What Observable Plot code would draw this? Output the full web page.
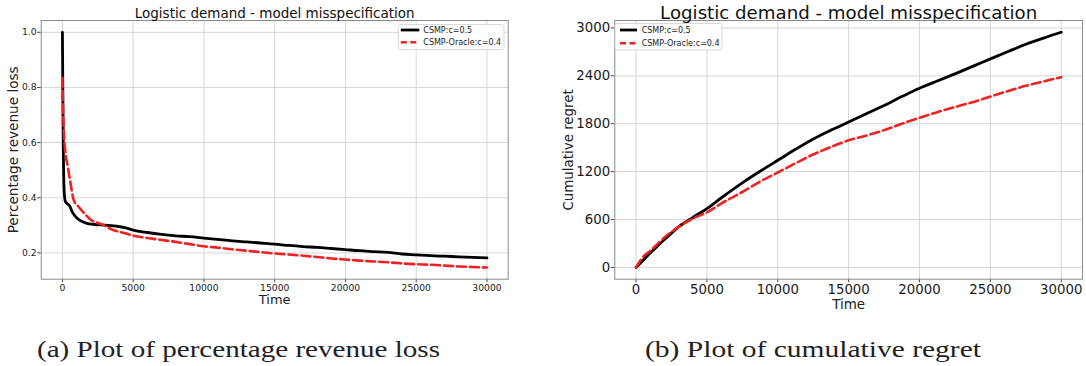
<!DOCTYPE html>
<html><head><meta charset="utf-8">
<script src="https://cdn.jsdelivr.net/npm/d3@7"></script>
<script src="https://cdn.jsdelivr.net/npm/@observablehq/plot@0.6"></script>
<style>
body{margin:0;background:#fff;}
#wrap{position:relative;width:1086px;height:366px;overflow:hidden;background:#fff;}
#wrap > svg{position:absolute;top:0;}
</style></head><body><div id="wrap"></div>
<script>
// ---------- data ----------
const seriesNames = ["CSMP:c=0.5", "CSMP-Oracle:c=0.4"];
const titleText = "Logistic demand - model misspecification";
const captions = ["(a) Plot of percentage revenue loss", "(b) Plot of cumulative regret"];

// Panel (a): percentage revenue loss
const timeLossCSMP = [0,20,40,60,90,130,190,300,490,730,1080,1670,2260,3000,3800,4400,5000,6000,7000,8000,9000,10000,11000,12000,13000,14000,15000,16000,17000,18000,19000,20000,21000,22000,23000,24000,25000,26000,27000,28000,29000,30000];
const lossCSMP = [1.0,0.85,0.70,0.58,0.48,0.42,0.39,0.38,0.372,0.345,0.324,0.308,0.303,0.301,0.297,0.292,0.283,0.274,0.267,0.262,0.259,0.254,0.249,0.244,0.240,0.236,0.232,0.227,0.223,0.220,0.216,0.212,0.208,0.205,0.202,0.196,0.193,0.190,0.188,0.186,0.184,0.182];
const timeLossOracle = [0,30,70,120,200,380,550,800,1100,1550,2000,2740,3500,4500,5000,6000,7000,8000,9000,10000,11000,12000,13000,14000,15000,16000,17000,18000,19000,20000,21000,22000,23000,24000,25000,26000,27000,28000,29000,30000];
const lossOracle = [0.834,0.75,0.68,0.62,0.57,0.513,0.46,0.391,0.37,0.343,0.32,0.305,0.285,0.27,0.263,0.254,0.247,0.24,0.232,0.224,0.219,0.213,0.208,0.203,0.198,0.194,0.190,0.185,0.180,0.176,0.172,0.169,0.166,0.162,0.159,0.157,0.154,0.151,0.149,0.147];

// Panel (b): cumulative regret
const timeRegretCSMP = [0,500,1000,1500,2000,2500,3000,4000,5000,6000,7500,8750,10000,11250,12500,13750,15000,16250,17500,18750,20000,21250,22500,23750,25000,26250,27500,28750,30000];
const regretCSMP = [0,90,180,265,350,430,508,625,737,870,1060,1205,1342,1480,1610,1720,1821,1925,2029,2140,2245,2335,2425,2518,2612,2705,2795,2873,2946];
const timeRegretOracle = [0,500,1000,2000,3000,4000,5000,6000,7500,8750,10000,11250,12500,13750,15000,16400,17500,18750,20000,21250,22500,23750,25000,26250,27500,28750,30000];
const regretOracle = [0,133,208,375,508,612,690,800,945,1075,1190,1305,1415,1510,1592,1660,1720,1800,1875,1945,2010,2070,2140,2210,2275,2330,2383];

const xTicks = [0,5000,10000,15000,20000,25000,30000];
const yTicksLoss = [0.2,0.4,0.6,0.8,1.0];
const yTicksRegret = [0,600,1200,1800,2400,3000];

// ---------- helpers ----------
const rows = (ts, vs, s) => ts.map((t, i) => ({t, v: vs[i], s}));
const BLACK = "#000000", RED = "#ee2222";
const GRID = "#d6d6d6";

function panel({width, mL, mR, yDomain, yTicks, yFmt, tickFont, titleFont, titleDy, yLabel, yLabelDx, yLabelFont, timeDy, timeFont, a, b}) {
  return Plot.plot({
    width, height: 310,
    marginLeft: mL, marginRight: mR, marginTop: 20, marginBottom: 31.3,
    style: {fontFamily: "DejaVu Sans", fontSize: tickFont + "px", background: "transparent", overflow: "visible", color: "#1a1a1a"},
    x: {domain: [-1500, 31500]},
    y: {domain: yDomain},
    marks: [
      Plot.gridX(xTicks, {stroke: GRID, strokeOpacity: 1, strokeWidth: 1}),
      Plot.gridY(yTicks, {stroke: GRID, strokeOpacity: 1, strokeWidth: 1}),
      Plot.axisX(xTicks, {tickFormat: d3.format("d"), tickSize: 3.5, tickPadding: 1.5, fontSize: tickFont, label: null, stroke: "#444"}),
      Plot.axisY(yTicks, {tickFormat: yFmt, tickSize: 3.5, tickPadding: 1.2, fontSize: tickFont, label: null, stroke: "#444"}),
      Plot.line(a, {x: "t", y: "v", stroke: BLACK, strokeWidth: 2.8, curve: "monotone-x"}),
      Plot.line(b, {x: "t", y: "v", stroke: RED, strokeWidth: 2.6, strokeDasharray: "9,4", curve: "monotone-x"}),
      Plot.frame({stroke: "#8a8a8a", strokeWidth: 1}),
      Plot.text([titleText], {text: d => d, frameAnchor: "top", lineAnchor: "bottom", dy: titleDy, fontSize: titleFont, fill: "#111"}),
      Plot.text([yLabel], {text: d => d, frameAnchor: "left", textAnchor: "middle", lineAnchor: "middle", rotate: -90, dx: yLabelDx, fontSize: yLabelFont, fill: "#222"}),
      Plot.text(["Time"], {text: d => d, frameAnchor: "bottom", textAnchor: "middle", lineAnchor: "bottom", dy: timeDy, fontSize: timeFont, fill: "#222"})
    ]
  });
}

const wrap = document.getElementById("wrap");

const A = panel({
  width: 540, mL: 40.7, mR: 32.3,
  yDomain: [0.1047, 1.0427], yTicks: yTicksLoss, yFmt: d3.format(".1f"),
  tickFont: 9.2, titleFont: 13.5, titleDy: -3,
  yLabel: "Percentage revenue loss", yLabelDx: -27.4, yLabelFont: 13.6,
  timeDy: 24.3, timeFont: 13,
  a: rows(timeLossCSMP, lossCSMP, seriesNames[0]),
  b: rows(timeLossOracle, lossOracle, seriesNames[1])
});
A.style.left = "0px";
wrap.appendChild(A);

const B = panel({
  width: 540, mL: 68.3, mR: 4,
  yDomain: [-147, 3093], yTicks: yTicksRegret, yFmt: d3.format("d"),
  tickFont: 13.3, titleFont: 18.2, titleDy: -1.5,
  yLabel: "Cumulative regret", yLabelDx: -45.6, yLabelFont: 13.4,
  timeDy: 29.3, timeFont: 13.5,
  a: rows(timeRegretCSMP, regretCSMP, seriesNames[0]),
  b: rows(timeRegretOracle, regretOracle, seriesNames[1])
});
B.style.left = "546px";
wrap.appendChild(B);

// ---------- legends and captions overlay ----------
const ov = d3.select(wrap).append("svg")
  .attr("width", 1086).attr("height", 366)
  .style("position", "absolute").style("left", "0px").style("top", "0px")
  .style("pointer-events", "none");

function legend(x0, y0, w, h, lineX0, lineX1, textX, rowYs) {
  const g = ov.append("g");
  g.append("rect").attr("x", x0).attr("y", y0).attr("width", w).attr("height", h)
    .attr("rx", 2).attr("fill", "#fff").attr("fill-opacity", 0.85)
    .attr("stroke", "#cfcfcf").attr("stroke-width", 0.8);
  const styles = [{stroke: BLACK, dash: null, sw: 2.8}, {stroke: RED, dash: "6,3.5", sw: 2.6}];
  seriesNames.forEach((name, i) => {
    const l = g.append("line").attr("x1", lineX0).attr("x2", lineX1)
      .attr("y1", rowYs[i]).attr("y2", rowYs[i])
      .attr("stroke", styles[i].stroke).attr("stroke-width", styles[i].sw);
    if (styles[i].dash) l.attr("stroke-dasharray", styles[i].dash);
    g.append("text").attr("x", textX).attr("y", rowYs[i]).attr("dy", "0.34em")
      .attr("font-family", "DejaVu Sans").attr("font-size", 8).attr("fill", "#222")
      .text(name);
  });
}
legend(398.3, 24.5, 105.7, 25, 400.8, 419.3, 423.3, [30, 42.3]);
legend(615, 23.5, 107, 26.5, 620, 637, 641.7, [30, 43.3]);

const capX = [37, 645], capW = [403, 336];
captions.forEach((c, i) => {
  ov.append("text").attr("x", capX[i]).attr("y", 357)
    .attr("font-family", "Liberation Serif").attr("font-size", 24).attr("fill", "#222")
    .attr("textLength", capW[i]).attr("lengthAdjust", "spacingAndGlyphs")
    .text(c);
});
</script>
</body></html>
